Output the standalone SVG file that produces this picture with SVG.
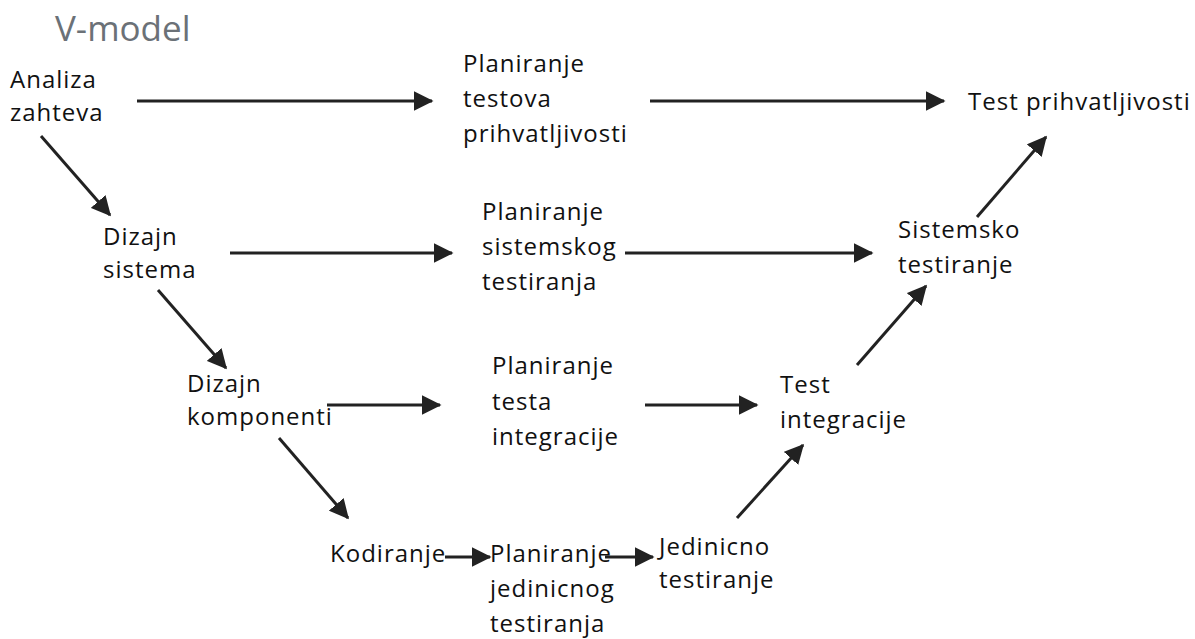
<svg xmlns="http://www.w3.org/2000/svg" width="1195" height="639" viewBox="0 0 1195 639">
<defs>
<style>
.t{font-family:"Open Sans","Liberation Sans",sans-serif;font-size:24px;fill:#111;letter-spacing:1px;font-weight:500}
.title{font-family:"Open Sans","Liberation Sans",sans-serif;font-size:35px;fill:#6b7177;font-weight:400}
.c{stroke:#222;stroke-width:3;fill:none;marker-end:url(#ah)}
</style>
<marker id="ah" markerWidth="6.5" markerHeight="6.5" refX="6" refY="3.25" orient="auto" markerUnits="strokeWidth">
<path d="M0,0 L6.5,3.25 L0,6.5 Z" fill="#222"/>
</marker>
</defs>
<rect width="1195" height="639" fill="#fff"/>
<text class="title" x="55" y="41">V-model</text>
<g id="connectors">
<line class="c" x1="137" y1="101" x2="432" y2="101"/>
<line class="c" x1="650" y1="101" x2="944" y2="101"/>
<line class="c" x1="230" y1="253" x2="452" y2="253"/>
<line class="c" x1="625" y1="253" x2="872" y2="253"/>
<line class="c" x1="327" y1="405" x2="440" y2="405"/>
<line class="c" x1="645" y1="405" x2="757" y2="405"/>
<line class="c" x1="445" y1="557" x2="490" y2="557"/>
<line class="c" x1="605" y1="557" x2="653" y2="557"/>
<line class="c" x1="41" y1="136" x2="110" y2="215"/>
<line class="c" x1="158" y1="290" x2="226" y2="368"/>
<line class="c" x1="279" y1="438" x2="348" y2="518"/>
<line class="c" x1="737" y1="518" x2="803" y2="445"/>
<line class="c" x1="857" y1="365" x2="926" y2="286"/>
<line class="c" x1="977" y1="217" x2="1046" y2="137"/>
</g>
<g id="analiza"><text class="t" x="10" y="88">Analiza</text><text class="t" x="10" y="121">zahteva</text></g>
<g id="plan-prihv"><text class="t" x="463" y="72">Planiranje</text><text class="t" x="463" y="107">testova</text><text class="t" x="463" y="142">prihvatljivosti</text></g>
<g id="test-prihv"><text class="t" x="968" y="110">Test prihvatljivosti</text></g>
<g id="dizajn-sistema"><text class="t" x="103" y="245">Dizajn</text><text class="t" x="103" y="278">sistema</text></g>
<g id="plan-sist"><text class="t" x="482" y="220">Planiranje</text><text class="t" x="482" y="255">sistemskog</text><text class="t" x="482" y="290">testiranja</text></g>
<g id="sistemsko"><text class="t" x="898" y="238">Sistemsko</text><text class="t" x="898" y="273">testiranje</text></g>
<g id="dizajn-komp"><text class="t" x="187" y="392">Dizajn</text><text class="t" x="187" y="425">komponenti</text></g>
<g id="plan-integr"><text class="t" x="492" y="374">Planiranje</text><text class="t" x="492" y="410">testa</text><text class="t" x="492" y="445">integracije</text></g>
<g id="test-integr"><text class="t" x="780" y="393">Test</text><text class="t" x="780" y="428">integracije</text></g>
<g id="kodiranje"><text class="t" x="330" y="562">Kodiranje</text></g>
<g id="plan-jed"><text class="t" x="490" y="562">Planiranje</text><text class="t" x="490" y="597">jedinicnog</text><text class="t" x="490" y="632">testiranja</text></g>
<g id="jedinicno"><text class="t" x="659" y="555">Jedinicno</text><text class="t" x="659" y="588">testiranje</text></g>
</svg>
